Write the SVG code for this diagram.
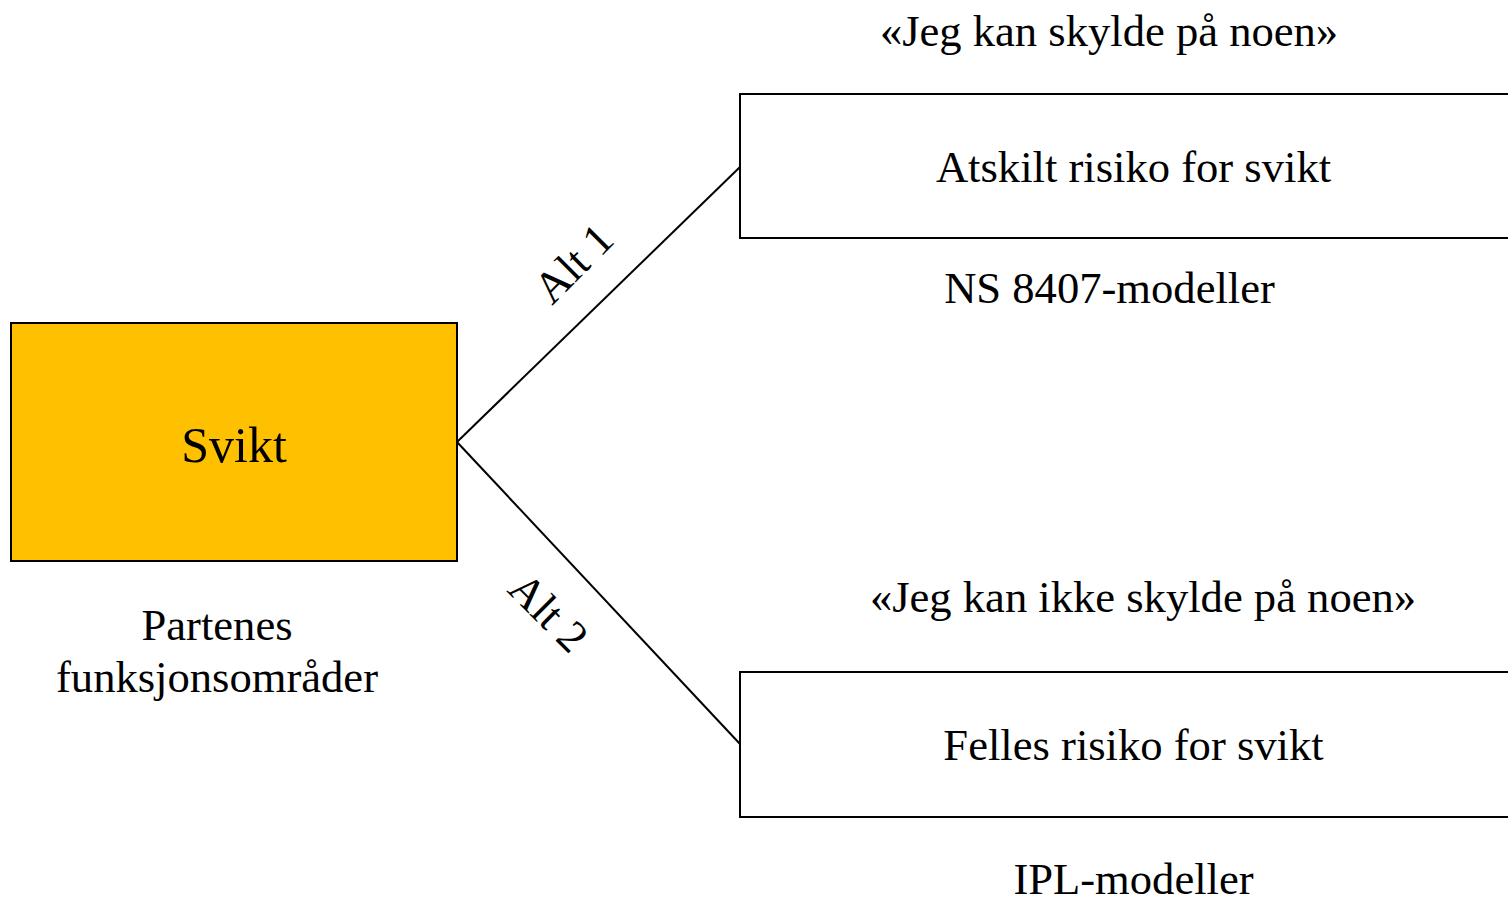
<svg xmlns="http://www.w3.org/2000/svg" width="1508" height="899" viewBox="0 0 1508 899">
<style>
text { font-family: "Liberation Serif", "Times New Roman", serif; fill: #000; }
.lbl { font-size: 44.6px; text-anchor: middle; }
.box { fill: #fff; stroke: #000; stroke-width: 2; }
.conn { stroke: #000; stroke-width: 2; fill: none; }
</style>
<rect width="1508" height="899" fill="#fff"/>
<g id="connectors">
  <line class="conn" x1="457" y1="442" x2="740" y2="167"/>
  <line class="conn" x1="457" y1="442" x2="740" y2="744"/>
  <text class="lbl" transform="translate(584,274) rotate(-45)">Alt 1</text>
  <text class="lbl" transform="translate(538,623) rotate(45)">Alt 2</text>
</g>
<g id="svikt">
  <rect x="11" y="323" width="446" height="238" fill="#FFC000" stroke="#000" stroke-width="2"/>
  <text x="234" y="462" font-size="50" text-anchor="middle">Svikt</text>
  <text class="lbl" x="217" y="640">Partenes</text>
  <text class="lbl" x="217" y="692">funksjonsområder</text>
</g>
<g id="atskilt">
  <text class="lbl" x="1109" y="46">«Jeg kan skylde på noen»</text>
  <rect class="box" x="740" y="94" width="780" height="144"/>
  <text class="lbl" x="1133.5" y="182">Atskilt risiko for svikt</text>
  <text class="lbl" x="1109.5" y="303">NS 8407-modeller</text>
</g>
<g id="felles">
  <text class="lbl" x="1143" y="612">«Jeg kan ikke skylde på noen»</text>
  <rect class="box" x="740" y="672" width="780" height="145"/>
  <text class="lbl" x="1133.5" y="760">Felles risiko for svikt</text>
  <text class="lbl" x="1133.5" y="894">IPL-modeller</text>
</g>
</svg>
